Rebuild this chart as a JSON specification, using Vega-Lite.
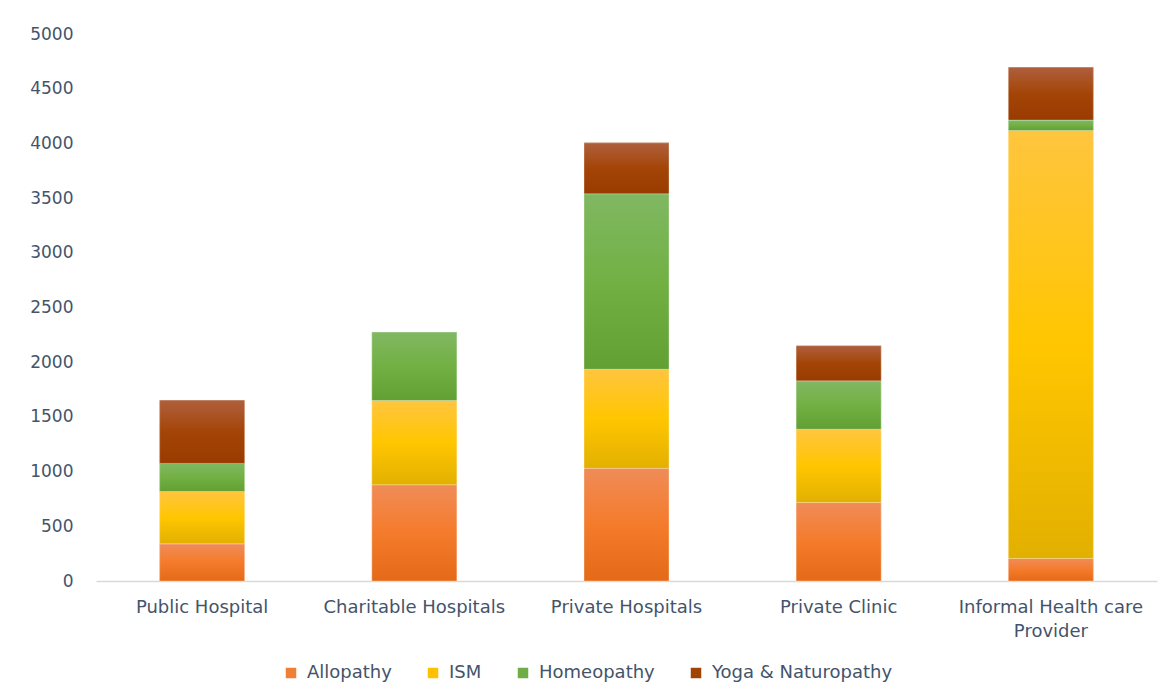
{
  "$schema": "https://vega.github.io/schema/vega-lite/v6.json",
  "autosize": {"type": "none"},
  "width": 1061,
  "height": 547,
  "padding": {"left": 96, "top": 34, "right": 18, "bottom": 115},
  "background": "white",
  "config": {
    "view": {"stroke": null},
    "font": "DejaVu Sans"
  },
  "data": {
    "values": [
      {"category": "Public Hospital", "type": "Allopathy", "order": 1, "value": 340},
      {"category": "Public Hospital", "type": "ISM", "order": 2, "value": 478},
      {"category": "Public Hospital", "type": "Homeopathy", "order": 3, "value": 257},
      {"category": "Public Hospital", "type": "Yoga & Naturopathy", "order": 4, "value": 578},
      {"category": "Charitable Hospitals", "type": "Allopathy", "order": 1, "value": 880},
      {"category": "Charitable Hospitals", "type": "ISM", "order": 2, "value": 770},
      {"category": "Charitable Hospitals", "type": "Homeopathy", "order": 3, "value": 625},
      {"category": "Private Hospitals", "type": "Allopathy", "order": 1, "value": 1030},
      {"category": "Private Hospitals", "type": "ISM", "order": 2, "value": 905},
      {"category": "Private Hospitals", "type": "Homeopathy", "order": 3, "value": 1605},
      {"category": "Private Hospitals", "type": "Yoga & Naturopathy", "order": 4, "value": 465},
      {"category": "Private Clinic", "type": "Allopathy", "order": 1, "value": 717},
      {"category": "Private Clinic", "type": "ISM", "order": 2, "value": 670},
      {"category": "Private Clinic", "type": "Homeopathy", "order": 3, "value": 443},
      {"category": "Private Clinic", "type": "Yoga & Naturopathy", "order": 4, "value": 321},
      {"category": "Informal Health care Provider", "type": "Allopathy", "order": 1, "value": 206},
      {"category": "Informal Health care Provider", "type": "ISM", "order": 2, "value": 3912},
      {"category": "Informal Health care Provider", "type": "Homeopathy", "order": 3, "value": 95},
      {"category": "Informal Health care Provider", "type": "Yoga & Naturopathy", "order": 4, "value": 483}
    ]
  },
  "transform": [
    {"stack": "value", "groupby": ["category"], "sort": [{"field": "order", "order": "ascending"}], "as": ["y0", "y1"]}
  ],
  "encoding": {
    "x": {
      "field": "category",
      "type": "nominal",
      "sort": ["Public Hospital", "Charitable Hospitals", "Private Hospitals", "Private Clinic", "Informal Health care Provider"],
      "scale": {"paddingInner": 0.6, "paddingOuter": 0.3},
      "title": null,
      "axis": {
        "labelAngle": 0,
        "labelFontSize": 18,
        "labelColor": "#44546A",
        "labelPadding": 17,
        "labelLineHeight": 24,
        "labelLimit": 400,
        "ticks": false,
        "domainColor": "#D9D9D9",
        "domainWidth": 1.5,
        "grid": false,
        "labelExpr": "datum.label == 'Informal Health care Provider' ? ['Informal Health care', 'Provider'] : datum.label"
      }
    },
    "y": {
      "field": "y1",
      "type": "quantitative",
      "scale": {"domain": [0, 5000]},
      "title": null,
      "axis": {
        "values": [0, 500, 1000, 1500, 2000, 2500, 3000, 3500, 4000, 4500, 5000],
        "format": "d",
        "domain": false,
        "ticks": false,
        "grid": false,
        "labelFontSize": 17,
        "labelColor": "#44546A",
        "labelPadding": 23
      }
    },
    "y2": {"field": "y0"}
  },
  "layer": [
    {
      "mark": {"type": "bar"},
      "encoding": {
        "color": {
          "field": "type",
          "type": "nominal",
          "scale": {
            "domain": ["Allopathy", "ISM", "Homeopathy", "Yoga & Naturopathy"],
            "range": ["#F07F35", "#FFC000", "#70AD47", "#A04305"]
          },
          "legend": {
            "orient": "none",
            "legendX": 186,
            "legendY": 630,
            "direction": "horizontal",
            "columns": 4,
            "title": null,
            "symbolType": "square",
            "symbolSize": 110,
            "symbolStrokeWidth": 0,
            "labelFontSize": 18,
            "labelLimit": 400,
            "labelColor": "#44546A",
            "columnPadding": 32,
            "labelOffset": 7
          }
        }
      }
    },
    {
      "transform": [{"filter": "datum.type === 'Allopathy'"}],
      "mark": {
        "type": "bar",
        "stroke": "white", "strokeOpacity": 0.3, "strokeWidth": 1,
        "color": {"gradient": "linear", "x1": 0, "y1": 0, "x2": 0, "y2": 1,
          "stops": [{"offset": 0, "color": "#F08C58"}, {"offset": 0.5, "color": "#F47B2B"}, {"offset": 1, "color": "#E46A18"}]}
      }
    },
    {
      "transform": [{"filter": "datum.type === 'ISM'"}],
      "mark": {
        "type": "bar",
        "stroke": "white", "strokeOpacity": 0.3, "strokeWidth": 1,
        "color": {"gradient": "linear", "x1": 0, "y1": 0, "x2": 0, "y2": 1,
          "stops": [{"offset": 0, "color": "#FFC53F"}, {"offset": 0.5, "color": "#FFC600"}, {"offset": 1, "color": "#E2B000"}]}
      }
    },
    {
      "transform": [{"filter": "datum.type === 'Homeopathy'"}],
      "mark": {
        "type": "bar",
        "stroke": "white", "strokeOpacity": 0.3, "strokeWidth": 1,
        "color": {"gradient": "linear", "x1": 0, "y1": 0, "x2": 0, "y2": 1,
          "stops": [{"offset": 0, "color": "#80B862"}, {"offset": 0.5, "color": "#72B044"}, {"offset": 1, "color": "#62A034"}]}
      }
    },
    {
      "transform": [{"filter": "datum.type === 'Yoga & Naturopathy'"}],
      "mark": {
        "type": "bar",
        "stroke": "white", "strokeOpacity": 0.3, "strokeWidth": 1,
        "color": {"gradient": "linear", "x1": 0, "y1": 0, "x2": 0, "y2": 1,
          "stops": [{"offset": 0, "color": "#AF5F3D"}, {"offset": 0.5, "color": "#A44507"}, {"offset": 1, "color": "#993A00"}]}
      }
    }
  ]
}
